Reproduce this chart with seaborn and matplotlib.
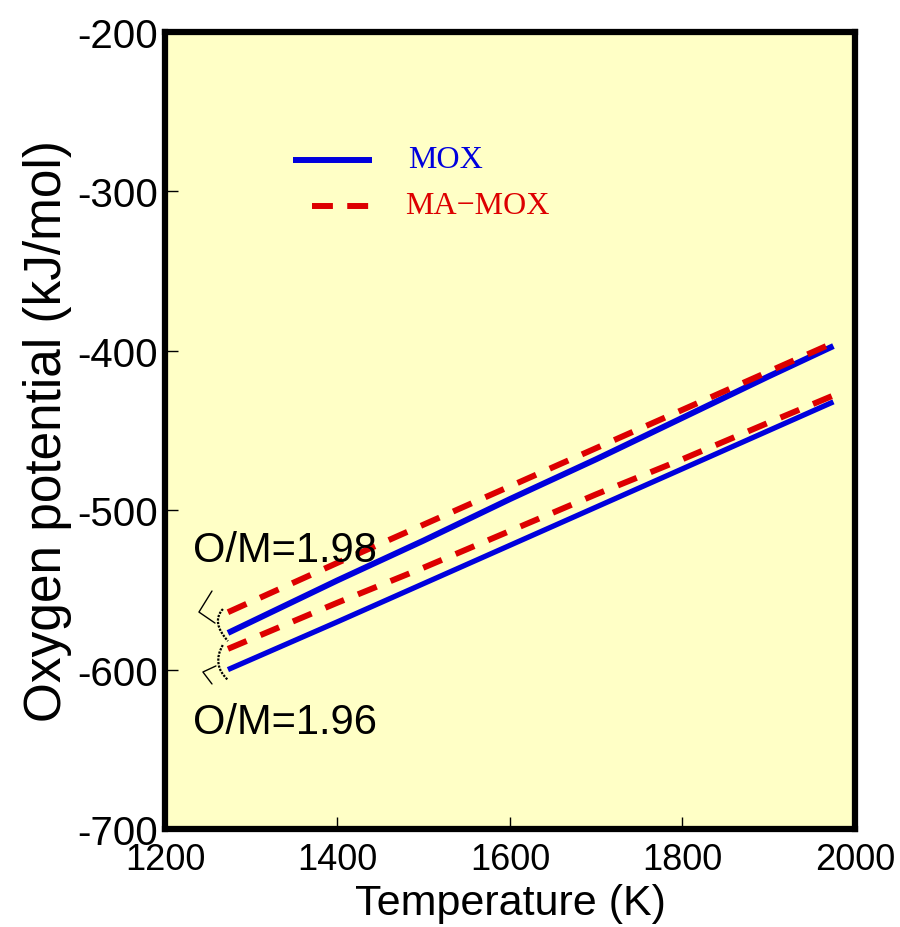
import matplotlib
matplotlib.use("Agg")
import matplotlib.pyplot as plt
import seaborn as sns
import pandas as pd
from matplotlib.path import Path
from matplotlib.patches import PathPatch
from matplotlib.lines import Line2D

# ---- data ----
temps = [1273, 1400, 1500, 1600, 1700, 1800, 1900, 1975]
mox_198 = [-577, -544, -519, -493, -468, -442, -416, -397]
mox_196 = [-600, -570, -546, -522, -498, -474, -450, -432]
mamox_198 = [-564, -533, -509, -485, -461, -437, -413, -395]
mamox_196 = [-587, -558, -536, -513, -490, -468, -445, -428]

x_ticks = [1200, 1400, 1600, 1800, 2000]
y_ticks = [-700, -600, -500, -400, -300, -200]

rows = []
for series, om, vals in [("MOX", "1.98", mox_198), ("MOX", "1.96", mox_196),
                         ("MA-MOX", "1.98", mamox_198), ("MA-MOX", "1.96", mamox_196)]:
    for t, v in zip(temps, vals):
        rows.append({"T": t, "V": v, "series": series, "om": om})
df = pd.DataFrame(rows)

sns.set_style("ticks")
plt.rcParams['axes.unicode_minus'] = False
plt.rcParams['font.family'] = ['Liberation Sans', 'DejaVu Sans']
for k in ['text.color', 'axes.labelcolor', 'xtick.color', 'ytick.color']:
    plt.rcParams[k] = 'black'

fig = plt.figure(figsize=(9, 9.28), dpi=100)
ax = fig.add_axes([0.1833, 0.1056, 0.7667, 0.8588])
ax.set_facecolor('#FFFFC6')

blue = '#0000DD'
red = '#DD0000'
for om in ["1.98", "1.96"]:
    sub = df[(df.series == "MOX") & (df.om == om)]
    sns.lineplot(data=sub, x="T", y="V", ax=ax, color=blue, lw=4.3 if om == "1.98" else 3.8,
                 solid_capstyle='butt', legend=False)
for om in ["1.98", "1.96"]:
    sub = df[(df.series == "MA-MOX") & (df.om == om)]
    sns.lineplot(data=sub, x="T", y="V", ax=ax, color=red, lw=4.3,
                 dashes=False, legend=False)
    ax.lines[-1].set_dashes([3.4, 2.5])

ax.set_xlim(1200, 2000)
ax.set_ylim(-700, -200)
ax.set_xticks(x_ticks)
ax.set_yticks(y_ticks)
ax.set_xticklabels([str(v) for v in x_ticks], fontsize=26)
ax.set_yticklabels([str(v) for v in y_ticks], fontsize=29)
ax.tick_params(axis='x', direction='in', length=9, width=1, pad=9)
ax.tick_params(axis='y', direction='in', length=9, width=1, pad=5)
for s in ax.spines.values():
    s.set_linewidth(4.5)
    s.set_color('black')

ax.set_xlabel("Temperature (K)", fontsize=31, labelpad=5)
ax.set_ylabel("Oxygen potential (kJ/mol)", fontsize=37, labelpad=4)

# O/M labels
ax.text(1232, -532, "O/M=1.98", fontsize=30, ha='left', va='baseline')
ax.text(1232, -640, "O/M=1.96", fontsize=30, ha='left', va='baseline')

# bracket decorations
angle_upper_T = [1254.5, 1239.4, 1258.0]
angle_upper_V = [-550.7, -563.9, -570.8]
angle_lower_T = [1259.1, 1244.0, 1254.5]
angle_lower_V = [-597.7, -601.5, -609.0]
ax.plot(angle_upper_T, angle_upper_V, color='black', lw=1)
ax.plot(angle_lower_T, angle_lower_V, color='black', lw=1)
arc_upper = [(1267.2, -562.0), (1253.0, -570.0), (1273.0, -582.1)]
arc_lower = [(1267.0, -584.6), (1254.0, -597.0), (1273.0, -606.5)]
for arc in (arc_upper, arc_lower):
    p = Path(arc, [Path.MOVETO, Path.CURVE3, Path.CURVE3])
    ax.add_patch(PathPatch(p, fill=False, color='black', lw=1.6, linestyle=(0, (1, 0.6))))

# legend (custom)
ax.add_line(Line2D([1348, 1440], [-280, -280], color=blue, lw=4.3, solid_capstyle='butt'))
ax.add_line(Line2D([1370, 1437], [-309, -309], color=red, lw=4.3, dashes=[3.5, 2.4]))
ax.text(1482, -280, "MOX", color=blue, fontsize=23, family=['Liberation Serif'], va='center')
ax.text(1478, -309, "MA\u2212MOX", color=red, fontsize=23, family=['Liberation Serif', 'DejaVu Serif'], va='center')

fig.savefig("out.png", dpi=100, facecolor='white')
